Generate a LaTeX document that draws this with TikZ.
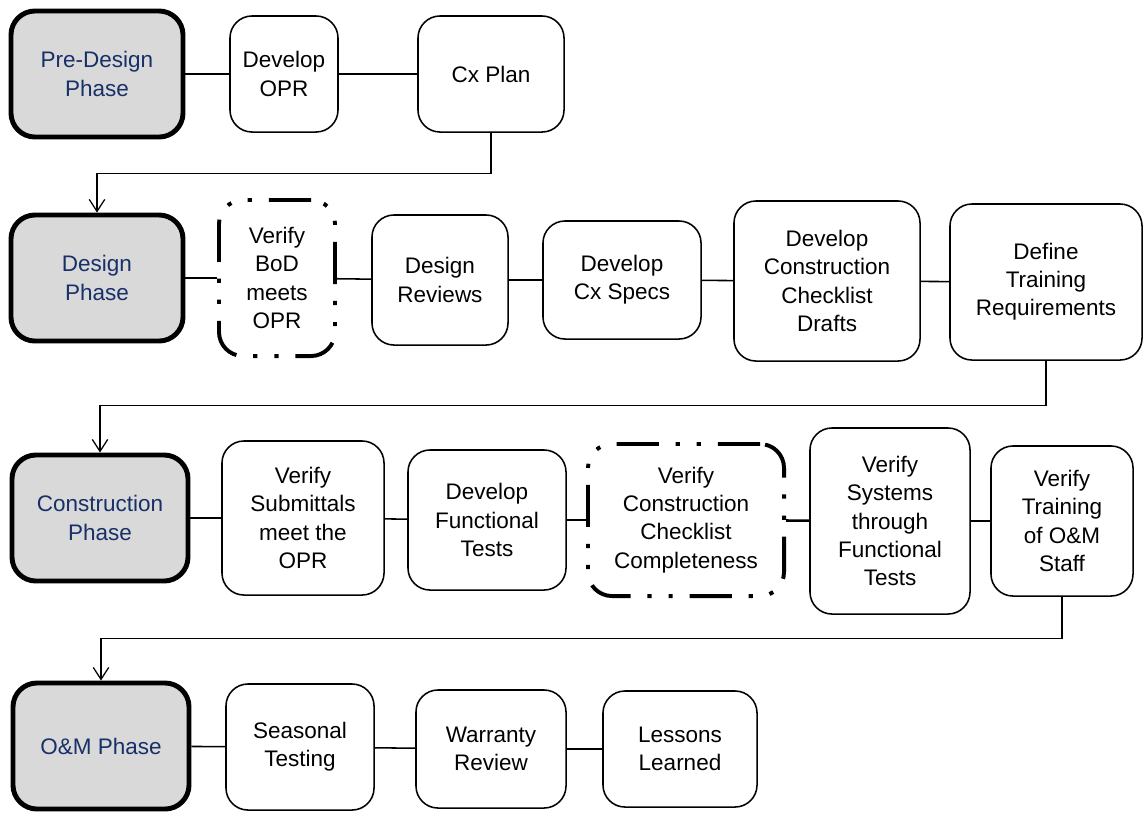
\documentclass[tikz,border=0pt]{standalone}
\usepackage{fontspec}
\setmainfont{Liberation Sans}
\usetikzlibrary{arrows.meta,positioning}
\definecolor{phaseblue}{RGB}{24,48,104}
\definecolor{phasegrey}{RGB}{217,217,217}

\begin{document}
\begin{tikzpicture}[x=0.025cm,y=-0.025cm,
  every node/.style={font=\fontsize{16}{20}\selectfont,align=center},
  phase/.style={draw,line width=3.5pt,fill=phasegrey,text=phaseblue,rounded corners=0.6cm,minimum width=4.3cm,minimum height=3.15cm},
  task/.style={draw,line width=1.1pt,rounded corners=0.55cm},
  check/.style={draw,line width=2.8pt,rounded corners=0.6cm,dash pattern=on 30pt off 12pt on 3pt off 12pt on 3pt off 12pt},
  link/.style={line width=1.1pt},
  thicklink/.style={line width=1.8pt},
  route/.style={line width=0.9pt,-{Straight Barb[length=8.5pt,width=11pt]}}]

\useasboundingbox (0,0) rectangle (1144,812);

% pre-design
\node[phase] (pre) at (97,74) {Pre-Design\\Phase};
\node[task,minimum width=2.7cm,minimum height=2.9cm] (opr) at (284,74) {Develop\\OPR};
\node[task,minimum width=3.65cm,minimum height=2.9cm] (cxplan) at (491,74) {Cx Plan};

% design
\node[phase] (design) at (97,278) {Design\\Phase};
\node[check,minimum width=2.9cm,minimum height=3.9cm] (bod) at (277,278) {Verify\\BoD\\meets\\OPR};
\node[task,minimum width=3.4cm,minimum height=3.25cm] (reviews) at (440,280) {Design\\Reviews};
\node[task,minimum width=3.95cm,minimum height=2.95cm] (specs) at (622,280) {Develop\\Cx Specs};
\node[task,minimum width=4.65cm,minimum height=4cm] (drafts) at (827,281) {Develop\\Construction\\Checklist\\Drafts};
\node[task,minimum width=4.8cm,minimum height=3.9cm] (training) at (1046,282) {Define\\Training\\Requirements};

% construction
\node[phase,minimum width=4.4cm] (constr) at (100,518) {Construction\\Phase};
\node[task,minimum width=4.05cm,minimum height=3.85cm] (submit) at (303,518) {Verify\\Submittals\\meet the\\OPR};
\node[task,minimum width=3.95cm,minimum height=3.5cm] (functest) at (487,520) {Develop\\Functional\\Tests};
\node[check,minimum width=4.9cm,minimum height=3.8cm] (complete) at (686,520) {Verify\\Construction\\Checklist\\Completeness};
\node[task,minimum width=4cm,minimum height=4.65cm] (systems) at (890,521) {Verify\\Systems\\through\\Functional\\Tests};
\node[task,minimum width=3.55cm,minimum height=3.75cm] (staff) at (1062,521) {Verify\\Training\\of O\&M\\Staff};

% O&M
\node[phase,minimum width=4.4cm] (om) at (101,746) {O\&M Phase};
\node[task,minimum width=3.7cm,minimum height=3.15cm] (seasonal) at (300,747) {Seasonal\\Testing};
\node[task,minimum width=3.75cm,minimum height=2.95cm] (warranty) at (491,749) {Warranty\\Review};
\node[task,minimum width=3.85cm,minimum height=2.9cm] (lessons) at (680,749) {Lessons\\Learned};

% links in each row
\draw[thicklink] (pre) -- (opr);
\draw[thicklink] (opr) -- (cxplan);
\draw[link] (design) -- (bod);
\draw[link] (bod) -- (reviews);
\draw[thicklink] (reviews) -- (specs);
\draw[link] (specs) -- (drafts);
\draw[link] (drafts) -- (training);
\draw[link] (constr) -- (submit);
\draw[link] (submit) -- (functest);
\draw[link] (functest) -- (complete);
\draw[thicklink] (complete) -- (systems);
\draw[link] (systems) -- (staff);
\draw[link] (om) -- (seasonal);
\draw[link] (seasonal) -- (warranty);
\draw[link] (warranty) -- (lessons);

% from one phase to the next
\draw[route] (cxplan.south) -- ++(0,41) -| (design.north);
\draw[route] (training.south) -- ++(0,45) -| (constr.north);
\draw[route] (staff.south) -- ++(0,42) -| (om.north);
\end{tikzpicture}
\end{document}
